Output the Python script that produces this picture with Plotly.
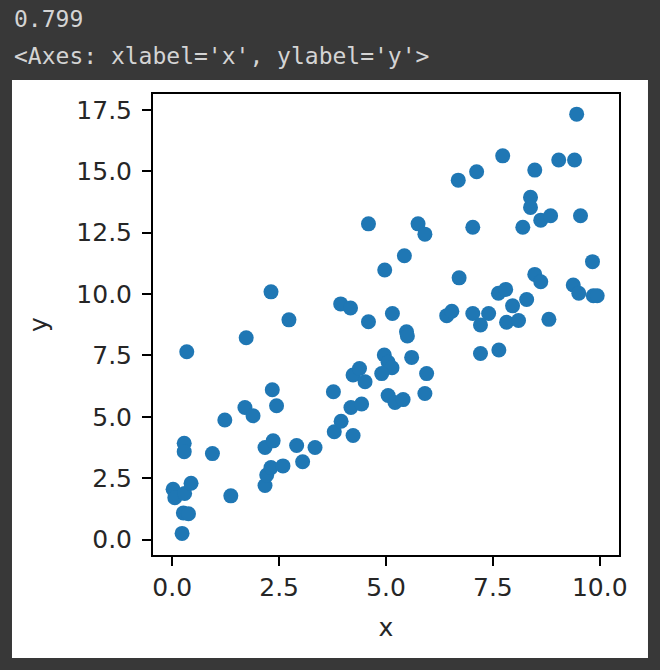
import plotly.graph_objects as go

# values
x_vals = [0.02, 0.06, 0.29, 0.44, 0.26, 0.38, 0.23, 0.28, 0.28, 0.34,
          0.94, 1.23, 1.37, 1.70, 1.89, 1.73, 2.17, 2.21, 2.31, 2.59,
          2.17, 2.36, 2.34, 2.44, 2.31, 2.73, 2.91, 3.05, 3.34, 3.77,
          3.79, 3.95, 4.23, 4.18, 4.43, 4.23, 4.38, 4.51, 3.94, 4.17,
          4.59, 4.59, 4.97, 4.96, 5.05, 5.14, 4.90, 5.60, 5.95, 5.91,
          5.05, 5.21, 5.40, 5.15, 5.48, 5.50, 5.43, 5.75, 5.91, 6.42,
          6.54, 6.69, 6.71, 7.03, 7.40, 7.21, 7.21, 7.64, 7.82, 8.10,
          7.96, 7.63, 7.80, 8.29, 8.81, 7.03, 7.12, 7.73, 8.48, 8.38,
          8.38, 8.62, 8.85, 8.20, 9.04, 9.41, 9.46, 9.55, 9.83, 8.48,
          8.62, 9.38, 9.51, 9.85, 9.94]
y_vals = [2.05, 1.70, 1.88, 2.29, 1.08, 1.05, 0.25, 3.92, 3.58, 7.65,
          3.50, 4.87, 1.78, 5.38, 5.04, 8.22, 2.20, 2.63, 2.93, 3.00,
          3.75, 4.02, 6.10, 5.45, 10.09, 8.95, 3.83, 3.17, 3.75, 6.02,
          4.39, 4.82, 4.24, 5.38, 5.52, 6.70, 6.97, 6.43, 9.60, 9.43,
          8.87, 12.86, 10.98, 7.52, 7.22, 7.00, 6.76, 7.42, 6.76, 5.95,
          5.87, 5.58, 5.70, 9.21, 8.46, 8.29, 11.56, 12.86, 12.44, 9.12,
          9.30, 14.64, 10.66, 9.21, 9.21, 8.74, 7.58, 7.72, 8.85, 8.92,
          9.52, 10.03, 10.19, 9.78, 8.97, 12.72, 14.98, 15.63, 15.05, 13.94,
          13.53, 13.01, 13.19, 12.72, 15.46, 15.46, 17.33, 13.19, 11.32, 10.80,
          10.50, 10.37, 10.03, 9.93, 9.93]

header_lines = ["0.799", "<Axes: xlabel='x', ylabel='y'>"]

fig = go.Figure(go.Scatter(x=x_vals, y=y_vals, mode="markers",
                           marker=dict(color="#1f77b4", size=15, line=dict(width=0))))

label_font = dict(family="DejaVu Sans", size=25, color="#262626")
axis_style = dict(showline=True, linecolor="black", linewidth=2, mirror=True,
                  ticks="outside", ticklen=9, tickwidth=2, tickcolor="black",
                  showgrid=False, zeroline=False, dtick=2.5, tickformat=".1f",
                  tickfont=label_font)

fig.update_layout(
    width=660, height=670,
    margin=dict(l=153, r=41, t=94, b=115),
    paper_bgcolor="#383838", plot_bgcolor="white",
    showlegend=False,
    xaxis=dict(range=[-0.45, 10.45], title=dict(text="x", standoff=17, font=label_font), **axis_style),
    yaxis=dict(range=[-0.63, 18.15], title=dict(text="y", standoff=22, font=label_font),
               ticklabelstandoff=5, **axis_style),
    shapes=[dict(type="rect", xref="paper", yref="paper", layer="below",
                 x0=-0.3026, x1=1.0622, y0=-0.2234, y1=1.0304,
                 fillcolor="white", line=dict(width=0))],
)

for i, txt in enumerate(header_lines):
    fig.add_annotation(text=txt, xref="paper", yref="paper", x=-0.3026, y=[1.1627, 1.0824][i],
                       xanchor="left", yanchor="middle", showarrow=False,
                       font=dict(family="DejaVu Sans Mono", size=23, color="#d4d4d4"))

fig.write_html("out.html", config={"displayModeBar": False},
               post_script="document.body.style.margin='0';document.body.style.background='#383838';")
